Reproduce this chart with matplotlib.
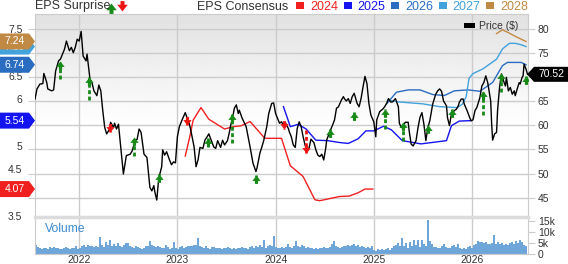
import numpy as np
import matplotlib
matplotlib.use("Agg")
import matplotlib.pyplot as plt
from matplotlib import transforms
from matplotlib.patches import Polygon, Rectangle
from matplotlib.path import Path

plt.rcParams['font.family'] = ['Liberation Sans', 'DejaVu Sans']

# price line (decimal year, $)
price_t = [2021.55, 2021.57, 2021.60, 2021.63, 2021.64, 2021.67, 2021.68, 2021.72, 2021.74, 2021.76,
           2021.79, 2021.81, 2021.83, 2021.85, 2021.87, 2021.90, 2021.92, 2021.94, 2021.96, 2021.98,
           2022.00, 2022.02, 2022.04, 2022.07, 2022.08, 2022.10, 2022.11, 2022.13, 2022.15, 2022.18,
           2022.20, 2022.22, 2022.24, 2022.26, 2022.28, 2022.31, 2022.32, 2022.35, 2022.36, 2022.38,
           2022.40, 2022.43, 2022.45, 2022.48, 2022.52, 2022.54, 2022.57, 2022.59, 2022.61, 2022.63,
           2022.66, 2022.69, 2022.72, 2022.74, 2022.76, 2022.77, 2022.79, 2022.81, 2022.84, 2022.85,
           2022.87, 2022.89, 2022.92, 2022.94, 2022.96, 2022.98, 2023.00, 2023.02, 2023.05, 2023.08,
           2023.10, 2023.12, 2023.14, 2023.17, 2023.19, 2023.21, 2023.23, 2023.26, 2023.28, 2023.30,
           2023.32, 2023.35, 2023.37, 2023.39, 2023.41, 2023.44, 2023.46, 2023.48, 2023.51, 2023.53,
           2023.54, 2023.57, 2023.58, 2023.60, 2023.62, 2023.63, 2023.66, 2023.70, 2023.74, 2023.77,
           2023.80, 2023.81, 2023.84, 2023.86, 2023.88, 2023.91, 2023.93, 2023.96, 2023.98, 2024.00,
           2024.02, 2024.04, 2024.06, 2024.08, 2024.10, 2024.13, 2024.14, 2024.16, 2024.18, 2024.20,
           2024.22, 2024.24, 2024.26, 2024.28, 2024.30, 2024.32, 2024.34, 2024.36, 2024.39, 2024.41,
           2024.43, 2024.45, 2024.47, 2024.49, 2024.51, 2024.52, 2024.55, 2024.58, 2024.60, 2024.62,
           2024.64, 2024.67, 2024.69, 2024.70, 2024.72, 2024.74, 2024.76, 2024.78, 2024.80, 2024.83,
           2024.85, 2024.87, 2024.89, 2024.91, 2024.93, 2024.95, 2024.97, 2025.00, 2025.02, 2025.03,
           2025.06, 2025.09, 2025.11, 2025.13, 2025.15, 2025.17, 2025.19, 2025.22, 2025.25, 2025.26,
           2025.28, 2025.30, 2025.32, 2025.35, 2025.36, 2025.38, 2025.40, 2025.43, 2025.45, 2025.47,
           2025.49, 2025.51, 2025.53, 2025.55, 2025.57, 2025.60, 2025.63, 2025.65, 2025.67, 2025.69,
           2025.71, 2025.74, 2025.75, 2025.77, 2025.79, 2025.82, 2025.84, 2025.86, 2025.87, 2025.89,
           2025.91, 2025.92, 2025.95, 2025.97, 2025.99, 2026.01, 2026.03, 2026.05, 2026.08, 2026.10,
           2026.12, 2026.14, 2026.16, 2026.19, 2026.20, 2026.21, 2026.23, 2026.25, 2026.26, 2026.28,
           2026.30, 2026.32, 2026.34, 2026.35, 2026.37, 2026.39, 2026.41, 2026.43, 2026.44, 2026.46,
           2026.48, 2026.49, 2026.51, 2026.52, 2026.53, 2026.55, 2026.565]
price_v = [65.4, 67.5, 68.5, 68.6, 70.7, 68.8, 67.5, 67.1, 67.3, 71.2,
           73.3, 73.7, 74.7, 75.7, 77.4, 75.4, 76.1, 75.0, 76.1, 77.8,
           77.4, 79.4, 74.3, 73.3, 74.7, 71.2, 69.5, 68.8, 67.1, 66.1,
           68.3, 67.1, 63.0, 59.5, 58.2, 59.2, 60.6, 59.5, 60.4, 59.2,
           60.2, 54.0, 49.9, 53.7, 54.0, 54.7, 56.8, 57.1, 59.2, 58.5,
           54.0, 53.3, 47.1, 46.4, 47.5, 46.2, 44.5, 49.0, 51.4, 54.9,
           53.8, 54.5, 52.8, 51.8, 52.4, 52.2, 57.6, 59.7, 61.2, 62.6,
           61.4, 60.4, 58.6, 55.5, 51.4, 52.8, 55.4, 55.2, 56.9, 57.5,
           58.2, 56.6, 55.5, 55.2, 56.8, 55.4, 56.9, 55.9, 56.8, 58.6,
           59.7, 62.4, 63.5, 64.2, 62.4, 63.1, 61.4, 59.7, 55.5, 52.1,
           50.4, 51.1, 54.2, 55.5, 56.9, 59.7, 62.4, 64.5, 64.6, 62.4,
           61.4, 60.4, 60.7, 60.0, 60.5, 59.3, 58.6, 57.6, 55.9, 55.4,
           59.3, 60.7, 59.7, 57.6, 55.9, 54.5, 55.2, 57.1, 56.4, 54.9,
           53.8, 53.5, 54.0, 52.8, 55.2, 56.9, 58.6, 60.0, 61.1, 63.5,
           63.8, 65.2, 65.9, 65.5, 65.0, 65.5, 64.5, 65.9, 66.6, 64.5,
           63.8, 65.5, 67.9, 70.1, 68.6, 64.5, 62.1, 60.7, 57.6, 61.1,
           62.8, 63.3, 63.8, 64.5, 65.5, 64.8, 64.8, 65.5, 63.8, 60.4,
           59.5, 59.9, 60.6, 60.6, 58.8, 56.1, 55.7, 56.8, 59.5, 61.6,
           62.6, 60.2, 56.8, 59.5, 60.9, 64.4, 66.4, 67.1, 67.5, 67.0,
           65.0, 64.0, 61.6, 59.9, 62.3, 63.0, 63.3, 64.0, 64.7, 65.4,
           65.4, 64.4, 63.0, 61.9, 60.9, 61.1, 63.0, 63.7, 65.7, 68.1,
           68.8, 70.2, 68.8, 65.0, 60.2, 56.9, 58.2, 58.5, 63.0, 67.8,
           70.6, 69.2, 68.1, 69.9, 67.1, 67.8, 66.4, 67.1, 66.1, 67.5,
           68.8, 68.5, 69.9, 70.2, 72.6, 71.6, 70.52]

# EPS consensus by fiscal year
eps24_t = [2023.08, 2023.13, 2023.16, 2023.24, 2023.32, 2023.48, 2023.57, 2023.65, 2023.74, 2023.89,
           2024.06, 2024.15, 2024.28, 2024.40, 2024.45, 2024.65, 2024.75, 2024.84, 2024.91, 2024.99]
eps24_v = [4.78, 5.23, 5.55, 5.82, 5.57, 5.36, 5.41, 5.43, 5.52, 5.16,
           5.16, 4.57, 4.34, 3.84, 3.82, 3.91, 3.92, 3.99, 4.07, 4.07]
eps25_t = [2024.08, 2024.15, 2024.23, 2024.31, 2024.41, 2024.53, 2024.65, 2024.74, 2024.84, 2024.92,
           2025.00, 2025.10, 2025.18, 2025.29, 2025.48, 2025.74, 2025.79, 2025.87, 2025.99]
eps25_v = [5.84, 5.41, 5.46, 5.36, 5.12, 5.11, 5.07, 5.05, 5.15, 5.32,
           5.32, 5.42, 5.34, 5.11, 5.04, 5.11, 5.43, 5.53, 5.54]
eps26_t = [2025.13, 2025.23, 2025.35, 2025.47, 2025.60, 2025.72, 2025.82, 2025.96, 2026.08, 2026.21,
           2026.31, 2026.36, 2026.50, 2026.55]
eps26_v = [5.90, 6.15, 6.20, 6.20, 6.10, 6.08, 6.18, 6.20, 6.17, 6.36,
           6.72, 6.79, 6.79, 6.74]
eps27_t = [2025.14, 2025.26, 2025.50, 2025.67, 2025.85, 2025.90, 2025.94, 2025.97, 2026.01, 2026.11,
           2026.25, 2026.31, 2026.38, 2026.44, 2026.50, 2026.55]
eps27_v = [5.98, 5.94, 5.90, 5.84, 5.82, 5.89, 6.05, 6.45, 6.55, 6.65,
           6.86, 7.08, 7.20, 7.20, 7.17, 7.13]
eps28_t = [2026.25, 2026.31, 2026.36, 2026.45, 2026.55]
eps28_v = [7.41, 7.49, 7.44, 7.34, 7.24]

# EPS surprise arrows: date, price at start of arrow, price at tip
surp_t = [2021.80, 2022.10, 2022.31, 2022.56, 2022.81, 2023.10, 2023.31, 2023.56, 2023.80, 2024.09,
          2024.31, 2024.55, 2024.80, 2025.11, 2025.30, 2025.55, 2025.80, 2026.11, 2026.30, 2026.55]
surp_from = [69.5, 65.2, 60.2, 53.7, 48.3, 61.7, 55.4, 56.4, 48.1, 60.7,
             59.0, 57.5, 61.1, 59.3, 56.8, 58.5, 61.6, 62.1, 66.8, 68.5]
surp_to = [73.3, 70.0, 58.6, 57.6, 50.0, 60.1, 57.3, 62.4, 49.7, 59.3,
           54.3, 59.3, 62.8, 63.3, 60.6, 60.1, 63.3, 67.0, 70.7, 70.2]

# weekly volume, thousands
vol_k = [4.2, 3.0, 2.6, 2.4, 2.8, 2.5, 2.3, 3.1, 2.7, 3.0, 2.6, 2.9, 2.4, 2.2, 2.8, 3.2, 2.5, 2.3, 2.9, 2.6,
         3.4, 2.2, 2.7, 3.6, 3.9, 3.2, 4.1, 3.5, 3.8, 3.3, 3.6, 3.1, 7.8, 3.9, 3.2, 5.4, 4.2, 6.5, 3.8, 4.4,
         3.6, 4.9, 3.8, 3.2, 4.1, 5.0, 5.1, 3.7, 3.3, 2.9, 3.5, 3.0, 2.6, 2.4, 2.9, 3.4, 3.7, 5.9, 4.0, 3.6,
         3.2, 3.7, 3.3, 2.8, 2.5, 3.9, 3.1, 2.4, 2.9, 5.4, 2.6, 2.3, 3.0, 3.4, 2.7, 3.2, 3.8, 3.5, 3.6, 3.9,
         4.1, 7.4, 3.4, 3.0, 2.7, 3.5, 2.8, 2.4, 3.2, 3.0, 2.9, 2.6, 2.5, 2.3, 2.8, 2.6, 3.3, 2.9, 2.4, 2.7,
         2.2, 2.5, 2.8, 3.1, 2.6, 2.9, 2.3, 3.0, 3.4, 2.8, 3.5, 3.2, 3.9, 3.1, 6.5, 2.8, 3.4, 3.9, 3.6, 8.2,
         3.0, 2.6, 2.9, 3.1, 2.7, 3.3, 4.4, 3.2, 2.8, 3.6, 5.9, 3.8, 3.0, 4.1, 3.5, 2.7, 3.2, 2.5, 2.9, 2.4,
         2.6, 2.3, 2.8, 2.7, 3.0, 2.6, 2.9, 3.3, 4.6, 5.9, 3.7, 3.1, 2.6, 3.0, 3.4, 3.8, 4.2, 3.6, 3.9, 4.4,
         3.5, 4.1, 3.2, 3.8, 3.0, 2.7, 3.3, 2.9, 3.6, 1.8, 1.5, 2.2, 1.9, 2.4, 1.7, 2.1, 2.6, 2.0, 2.9, 3.4,
         4.2, 5.1, 3.8, 7.0, 3.6, 4.8, 2.9, 5.4, 3.5, 6.5, 4.0, 6.1, 3.3, 6.5, 4.4, 3.7, 15.2, 5.8, 4.6, 3.3,
         3.0, 2.6, 2.9, 3.4, 4.6, 3.1, 2.5, 2.8, 3.7, 4.1, 3.3, 4.6, 2.9, 2.4, 2.7, 2.2, 3.0, 3.6, 2.8, 3.9,
         4.5, 5.9, 5.4, 5.6, 4.8, 5.2, 4.6, 4.3, 4.9, 8.5, 4.7, 5.5, 4.4, 5.1, 4.2, 4.6, 3.9, 4.8, 5.3, 4.4,
         5.7, 4.9, 6.5, 5.2, 4.1, 3.5]
vol_t = np.linspace(2021.56, 2026.55, len(vol_k))

years = [2022, 2023, 2024, 2025, 2026]
price_ticks = [45, 50, 55, 60, 65, 70, 75, 80]
price_labels = ['45', '50', '55', '60', '65', '', '75', '80']      # 70 sits under the price tag
eps_ticks = [3.5, 4, 4.5, 5, 5.5, 6, 6.5, 7, 7.5]
eps_labels = ['3.5', '', '4.5', '5', '', '6', '6.5', '', '7.5']     # hidden by the badges
eps_series = [(eps24_t, eps24_v, '#f02020', '2024'),
              (eps25_t, eps25_v, '#1414f0', '2025'),
              (eps26_t, eps26_v, '#2a6cc0', '2026'),
              (eps27_t, eps27_v, '#42a2dc', '2027'),
              (eps28_t, eps28_v, '#c08a45', '2028')]

GRID = '#cccccc'
TXT = '#333333'
GREEN = '#178a17'
RED = '#ee1515'

fig = plt.figure(figsize=(5.68, 2.64), dpi=100)
W, H = 568.0, 264.0
L, R = 35 / W, 528 / W
rect_main = [L, 1 - 217 / H, R - L, (217 - 14) / H]
rect_vol = [L, 1 - 254 / H, R - L, (254 - 217) / H]

ax_p = fig.add_axes(rect_main)
ax_e = fig.add_axes(rect_main, sharex=ax_p)
ax_t = fig.add_axes(rect_main, sharex=ax_p)
ax_v = fig.add_axes(rect_vol, sharex=ax_p)

# background gradient + grid on the price axis
frac = np.linspace(0, 1, 200)[:, None]
img = 0.885 + 0.115 * np.clip(frac / 0.55, 0, 1)
ax_p.imshow(img, cmap='gray', vmin=0, vmax=1, extent=[0, 1, 0, 1], transform=ax_p.transAxes,
            aspect='auto', zorder=0, interpolation='bilinear')
ax_p.set_yticks(price_ticks)
ax_p.set_yticklabels(price_labels)
ax_p.grid(True, color=GRID, lw=1)
ax_p.set_axisbelow(True)
ax_p.tick_params(axis='y', left=True, right=True, labelleft=False, labelright=True, length=5,
                 color=GRID, labelsize=7.5, labelcolor=TXT, pad=2)
ax_p.tick_params(axis='x', bottom=False, labelbottom=False)
for s in ax_p.spines.values():
    s.set_color(GRID)
ax_p.spines['bottom'].set_visible(False)

# EPS consensus lines
for t, v, c, lab in eps_series:
    ax_e.plot(t, v, color=c, lw=1.0)
ax_e.patch.set_visible(False)
ax_e.set_yticks(eps_ticks)
ax_e.set_yticklabels(eps_labels)
ax_e.tick_params(axis='y', length=0, pad=9, labelsize=7.5, labelcolor=TXT)
ax_e.tick_params(axis='x', bottom=False, labelbottom=False)
for s in ax_e.spines.values():
    s.set_visible(False)

# price + surprise arrows
ax_t.plot(price_t, price_v, color='black', lw=1.0, zorder=3)
up = Path([(0, 0), (1, -1.3), (0.38, -1.3), (0.38, -2), (-0.38, -2), (-0.38, -1.3), (-1, -1.3), (0, 0)],
          closed=True)
down = Path([(x, -y) for x, y in up.vertices], closed=True)
for t, a, b in zip(surp_t, surp_from, surp_to):
    c = GREEN if b > a else RED
    ax_t.plot([t, t], [a, b], color=c, lw=2, ls=(0, (1.4, 0.9)), zorder=4, solid_capstyle='butt')
    ax_t.plot([t], [b], marker=up if b > a else down, ms=12, color=c, mec=c, mew=0, zorder=5)
ax_t.patch.set_visible(False)
ax_t.tick_params(axis='both', left=False, bottom=False, labelleft=False, labelbottom=False)
for s in ax_t.spines.values():
    s.set_visible(False)

# volume
step = vol_t[1] - vol_t[0]
ax_v.bar(vol_t, vol_k, width=step * 0.6, color='#6ea6da', edgecolor='none')
ax_v.set_ylim(0, 16.7)
ax_v.set_yticks([0, 5, 10, 15])
ax_v.set_yticklabels(['0', '5k', '10k', '15k'])
ax_v.yaxis.tick_right()
ax_v.tick_params(axis='y', length=5, color=GRID, labelsize=7.5, labelcolor=TXT, pad=2)
ax_v.set_xticks(years)
ax_v.set_xticklabels([str(y) for y in years])
ax_v.tick_params(axis='x', length=0, labelsize=7.5, labelcolor=TXT, pad=0.5)
ax_v.grid(True, axis='x', color=GRID, lw=1)
ax_v.set_axisbelow(True)
for s in ax_v.spines.values():
    s.set_color(GRID)
ax_v.spines['top'].set_color('#dcdcdc')
ax_v.spines['top'].set_linewidth(2.5)

ax_p.set_xlim(2021.55, 2026.57)
ax_p.set_ylim(41.0, 83.0)
ax_t.set_ylim(41.0, 83.0)
ax_e.set_ylim(3.47, 7.83)


def badge(ax, x0, y, verts, tx, text, color, z):
    base = transforms.blended_transform_factory(fig.transFigure, ax.transData)
    tr = fig.dpi_scale_trans + transforms.ScaledTranslation(x0, y, base)
    fig.add_artist(Polygon(np.array(verts) / 100.0, closed=True, transform=tr,
                           fc=color, ec='none', zorder=z))
    fig.text(tx / 100.0, 0, text, transform=tr, ha='center', va='center',
             color='white', fontsize=7.5, zorder=z + 0.5)


for i, (t, v, c, lab) in enumerate(eps_series):
    badge(ax_e, 0, v[-1], [(0, -8), (29, -8), (35, 0), (29, 8), (0, 8)], 14.5,
          f'{v[-1]:.2f}', c, 5 + i)
badge(ax_t, 527 / W, price_v[-1], [(0, 0), (7, -7.5), (41, -7.5), (41, 7.5), (7, 7.5)], 24,
      f'{price_v[-1]:.2f}', 'black', 12)

# header / legends in pixel overlay
ov = fig.add_axes([0, 0, 1, 1])
ov.set_xlim(0, W)
ov.set_ylim(H, 0)
ov.axis('off')
ov.patch.set_visible(False)
ov.text(35, 9.5, 'EPS Surprise', fontsize=9, color=TXT, va='baseline')
ov.plot([111], [2.5], marker=up, ms=15, color=GREEN, mew=0)
ov.plot([122], [10.5], marker=down, ms=15, color=RED, mew=0)
ov.text(197, 9.5, 'EPS Consensus', fontsize=9, color=TXT, va='baseline')
for i, (t, v, c, lab) in enumerate(eps_series):
    sx = 296 + 47.5 * i
    ov.add_patch(Rectangle((sx, 2), 8, 7, color=c, lw=0))
    ov.text(sx + 14, 9.5, lab, fontsize=9, color=c, va='baseline')
ov.add_patch(Rectangle((464, 23), 11, 4.5, color='black', lw=0))
ov.text(479, 29, 'Price ($)', fontsize=7.5, color=TXT, va='baseline')
ov.text(45, 229, 'Volume', fontsize=8.7, color='#3a8bd0', va='center')

fig.savefig('out.png', dpi=100)
